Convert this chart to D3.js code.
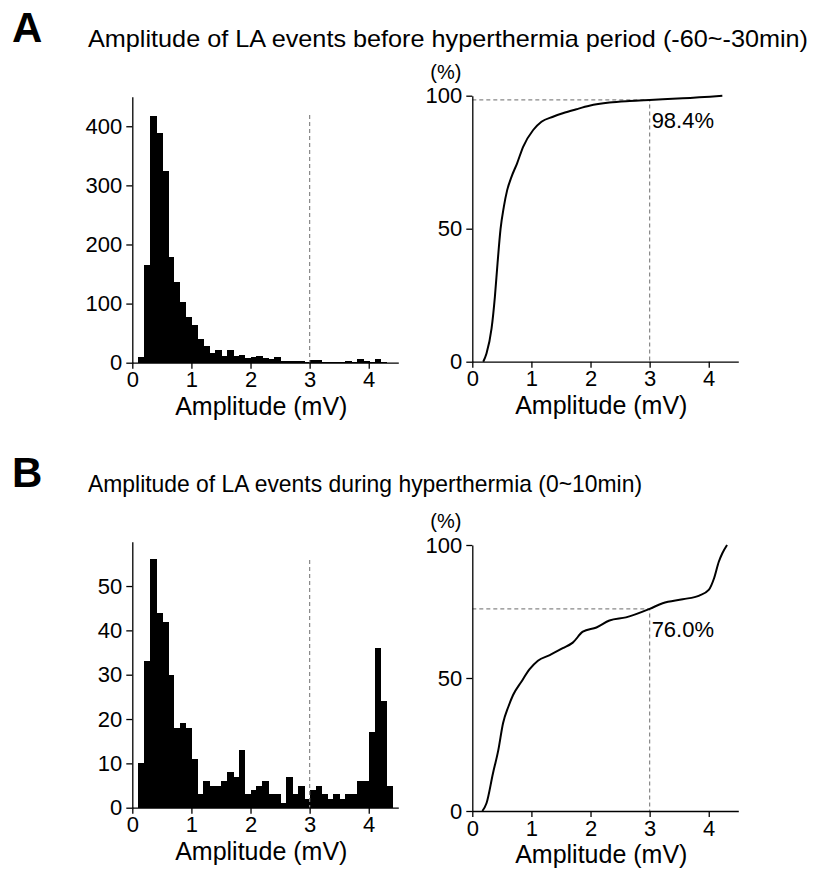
<!DOCTYPE html>
<html>
<head>
<meta charset="utf-8">
<script src="https://cdn.jsdelivr.net/npm/d3@7"></script>
<style>
  body { margin: 0; background: #fff; }
  svg text { font-family: "Liberation Sans", Arial, sans-serif; fill: #000; }
</style>
</head>
<body>
<div id="chart-area"></div>
<script>
// histogram bins (lower edges, mV) and counts
var binWidth = 0.1;
var binsA = [0.1,0.2,0.3,0.4,0.5,0.6,0.7,0.8,0.9,1.0,1.1,1.2,1.3,1.4,1.5,1.6,1.7,1.8,1.9,2.0,2.1,
             2.2,2.3,2.4,2.5,2.6,2.7,2.8,2.9,3.0,3.1,3.2,3.3,3.4,3.5,3.6,3.7,3.8,3.9,4.0,4.1,4.2];
var countsA = [10,166,418,389,325,178,137,103,78,63,40,28,16,21,12,22,12,13,8,10,12,
               8,6,10,3,3,3,3,2,5,4,2,2,2,2,3,2,7,3,2,6,2];

var binsB = [0.1,0.2,0.3,0.4,0.5,0.6,0.7,0.8,0.9,1.0,1.1,1.2,1.3,1.4,1.5,1.6,1.7,1.8,1.9,2.0,2.1,
             2.2,2.3,2.4,2.5,2.6,2.7,2.8,2.9,3.0,3.1,3.2,3.3,3.4,3.5,3.6,3.7,3.8,3.9,4.0,4.1,4.2,4.3];
var countsB = [10,33,56,44,42,30,18,19,18,11,3,6,5,5,6,8,7,13,3,4,5,
               6,3,3,1,7,3,5,2,4,5,3,2,3,2,3,3,6,6,17,36,24,5];

// cumulative curves (mV, %)
var cdfAx = [0.185,0.24,0.326,0.382,0.427,0.478,0.534,0.59,0.663,0.758,0.86,1.03,1.17,1.365,1.53,1.76,1.98,2.32,2.66,3.0,3.56,4.23];
var cdfAy = [0,3.1,12.5,24.4,37,49.9,58.3,64.5,69.5,74.6,80.8,87.1,90.2,92.1,93.4,94.9,96.2,97.4,98,98.4,99,100];
var cdfBx = [0.17,0.24,0.35,0.44,0.52,0.61,0.69,0.83,0.97,1.11,1.31,1.53,1.70,1.87,2.10,2.32,2.60,3.0,3.22,3.56,3.84,4.0,4.09,4.17,4.23,4.31];
var cdfBy = [0,2.9,14.2,22.9,33,39.2,43.6,48.6,53.3,56.5,58.6,61.2,63.3,67.4,69,71.6,72.8,76,78.1,79.6,81,83.1,87.5,93.7,96.9,100];

var xTicks = [0,1,2,3,4];
var histTicksA = [0,100,200,300,400];
var histTicksB = [0,10,20,30,40,50];
var cdfTicks = [0,50,100];
var cutoff = 3;
var pctA = 98.4, pctB = 76.0;
var titleA = "Amplitude of LA events before hyperthermia period (-60~-30min)";
var titleB = "Amplitude of LA events during hyperthermia (0~10min)";

var svg = d3.select("#chart-area").append("svg")
    .attr("width", 814)
    .attr("height", 870);

var W = 266, H = 266;
var tickFont = "22px";

function axes(g, x, y, yTicks){
    var xa = g.append("g").attr("transform", "translate(0," + H + ")")
        .call(d3.axisBottom(x).tickValues(xTicks).tickFormat(d3.format("d"))
            .tickSize(6).tickPadding(3).tickSizeOuter(0));
    var ya = g.append("g")
        .call(d3.axisLeft(y).tickValues(yTicks).tickFormat(d3.format("d"))
            .tickSize(6).tickPadding(4).tickSizeOuter(0));
    [xa, ya].forEach((a)=>{
        a.selectAll("text").style("font-size", tickFont).attr("font-family", null);
        a.selectAll("path,line").attr("stroke", "#000").attr("stroke-width", 1.3);
    });
    g.append("text")
        .attr("x", W/2 - 4)
        .attr("y", H + 52)
        .attr("text-anchor", "middle")
        .style("font-size", "25px")
        .text("Amplitude (mV)");
}

function hist(left, top, bins, counts, yMax, yTicks, lineTop){
    var g = svg.append("g").attr("transform", "translate(" + left + "," + top + ")");
    var x = d3.scaleLinear().domain([0, 4.5]).range([0, W]);
    var y = d3.scaleLinear().domain([0, yMax]).range([H, 0]);
    g.append("g").attr("shape-rendering", "crispEdges")
        .selectAll("rect").data(bins).enter().append("rect")
        .attr("x", (d)=> x(d))
        .attr("width", (d)=> x(d + binWidth) - x(d) + 0.8)
        .attr("y", (d, i)=> y(counts[i]))
        .attr("height", (d, i)=> y(0) - y(counts[i]))
        .attr("fill", "#000");
    g.append("line")
        .attr("x1", x(cutoff)).attr("x2", x(cutoff))
        .attr("y1", y(lineTop)).attr("y2", y(0))
        .attr("stroke", "#888").attr("stroke-width", 1.2)
        .attr("stroke-dasharray", "4,3");
    axes(g, x, y, yTicks);
}

function cdf(left, top, xs, ys, pct){
    var g = svg.append("g").attr("transform", "translate(" + left + "," + top + ")");
    var x = d3.scaleLinear().domain([0, 4.5]).range([0, W]);
    var y = d3.scaleLinear().domain([0, 100]).range([H, 0]);
    g.append("path")
        .attr("d", "M" + x(0) + "," + y(pct) + "H" + x(cutoff) + "V" + y(0))
        .attr("fill", "none")
        .attr("stroke", "#888").attr("stroke-width", 1.2)
        .attr("stroke-dasharray", "4,3");
    var line = d3.line()
        .x((d)=> x(d))
        .y((d, i)=> y(ys[i]))
        .curve(d3.curveMonotoneX);
    g.append("path")
        .attr("d", line(xs))
        .attr("fill", "none")
        .attr("stroke", "#000")
        .attr("stroke-width", 2);
    axes(g, x, y, cdfTicks);
    g.append("text")
        .attr("x", x(cutoff) + 2)
        .attr("y", y(pct) + 28)
        .style("font-size", tickFont)
        .text(pct.toFixed(1) + "%");
    g.append("text")
        .attr("x", -42)
        .attr("y", -17)
        .style("font-size", "20px")
        .text("(%)");
}

function header(top, letter, title, len){
    svg.append("text")
        .attr("x", 12).attr("y", top + 42)
        .style("font-size", "42px").style("font-weight", "bold")
        .text(letter);
    svg.append("text")
        .attr("x", 88).attr("y", top + 47)
        .style("font-size", "24px")
        .attr("textLength", len)
        .attr("lengthAdjust", "spacingAndGlyphs")
        .text(title);
}

header(0, "A", titleA, 720);
header(445, "B", titleB, 554);

hist(132.3, 96.7, binsA, countsA, 450, histTicksA, 419);
cdf(472.3, 95.7, cdfAx, cdfAy, pctA);
hist(132.3, 541.7, binsB, countsB, 60, histTicksB, 55.9);
cdf(472.3, 545, cdfBx, cdfBy, pctB);
</script>
</body>
</html>
